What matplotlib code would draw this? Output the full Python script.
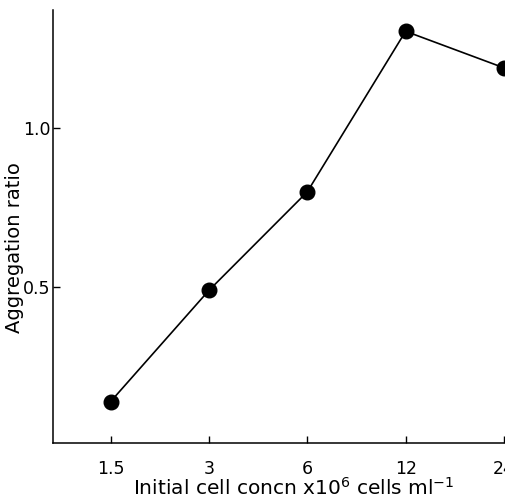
import matplotlib
matplotlib.use("Agg")
import matplotlib.pyplot as plt
from matplotlib.ticker import FixedLocator, FixedFormatter, NullLocator

conc = [1.5, 3, 6, 12, 24]
conc_labels = ["1.5", "3", "6", "12", "24"]
ratio = [0.14, 0.49, 0.80, 1.305, 1.19]
y_ticks = [0.5, 1.0]
y_labels = ["0.5", "1.0"]

fig = plt.figure(figsize=(5.05, 5.01), dpi=100)
ax = fig.add_axes([53/505, 1-443/501, (504-53)/505, (443-10)/501])
ax.set_xscale("log", base=2)
ax.plot(conc, ratio, color="black", lw=1.2, marker="o", markersize=10.5,
        markerfacecolor="black", markeredgecolor="black", clip_on=False, zorder=3)
ax.set_xlim(1, 24)
ax.set_ylim(0.01, 1.372)
ax.xaxis.set_major_locator(FixedLocator(conc))
ax.xaxis.set_major_formatter(FixedFormatter(conc_labels))
ax.xaxis.set_minor_locator(NullLocator())
ax.set_yticks(y_ticks)
ax.set_yticklabels(y_labels)
ax.tick_params(direction="in", length=5, width=1, labelsize=12.5)
ax.tick_params(axis="x", pad=12)
ax.tick_params(axis="y", pad=2)
for s in ["top", "right"]:
    ax.spines[s].set_visible(False)
for s in ["left", "bottom"]:
    ax.spines[s].set_linewidth(1.1)
ax.set_xlabel("Initial cell concn x10$^{6}$ cells ml$^{-1}$", fontsize=14.5)
ax.xaxis.set_label_coords((294-53)/451, -(477-443)/433)
ax.set_ylabel("Aggregation ratio", fontsize=14)
ax.yaxis.set_label_coords(-0.065, (443-248)/433)
fig.savefig("out.png", dpi=100)
